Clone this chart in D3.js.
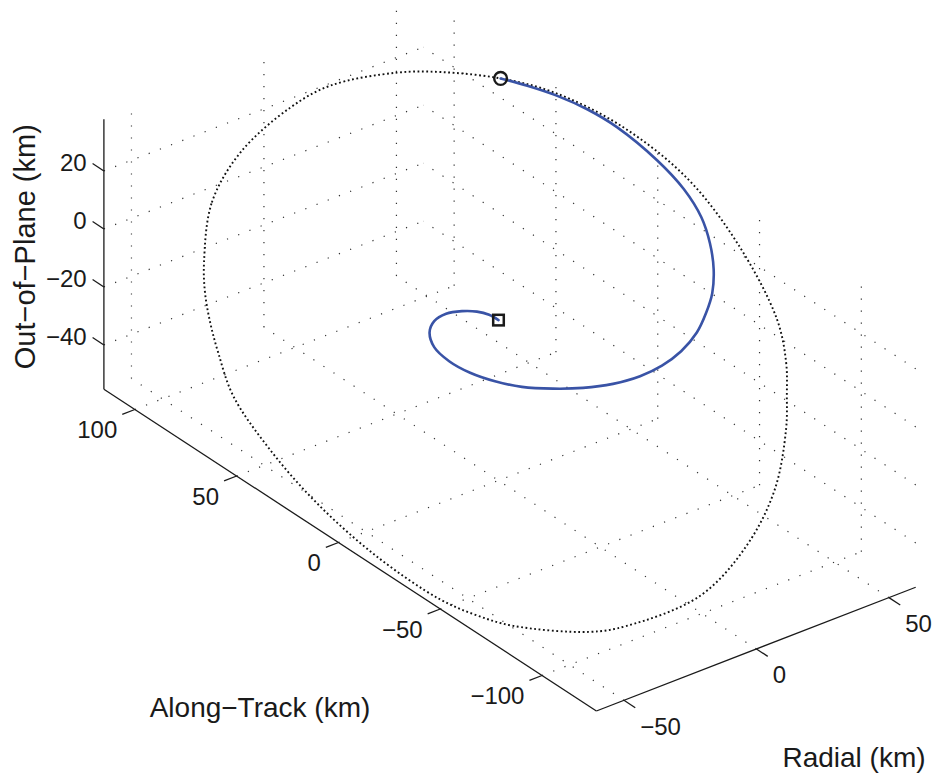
<!DOCTYPE html>
<html>
<head>
<meta charset="utf-8">
<script src="https://cdn.jsdelivr.net/npm/d3@7"></script>
<style>
  body { margin: 0; background: #fff; }
  svg text { font-family: "Liberation Sans", Arial, Helvetica, sans-serif; fill: #1a1a1a; }
</style>
</head>
<body>
<div id="chart"></div>
<script>
// natural motion ellipse (km)
const ellipseRadial = [-32.6, -20.2, -4.3, 12.7, 23.0, 36.3, 43.2, 50.9, 55.8, 59.5, 59.4, 55.0, 44.7, 36.4, 32.6, 28.7,
    17.1, 2.6, -12.9, -30.2, -37.0, -48.2, -52.3, -55.6, -59.3, -59.8, -57.2, -51.4, -46.7, -42.2, -37.0];
const ellipseAlong = [102.2, 114.5, 121.2, 118.8, 112.4, 97.0, 84.7, 65.2, 45.5, 17.5, -15.4, -46.4, -78.6, -93.9, -99.2, -103.9,
    -113.5, -118.4, -115.7, -102.2, -92.9, -69.9, -57.2, -43.5, -17.1, 11.6, 37.9, 63.4, 76.9, 86.7, 96.0];
const ellipseOutOfPlane = [-15.4, -4.8, 3.7, 14.3, 21.2, 28.0, 31.4, 35.4, 37.9, 38.0, 34.9, 27.6, 20.5, 15.6, 7.8, -0.1,
    -12.3, -24.5, -37.5, -47.9, -51.8, -56.3, -57.0, -56.6, -52.5, -47.1, -41.7, -37.0, -29.9, -25.6, -21.4];

// approach trajectory (km), from the circle to the square
const spiralRadial = [50.9, 53.3, 55.7, 57.6, 58.6, 58.3, 56.7, 54.2, 50.6, 45.7, 40.1, 34.8, 28.9, 22.6, 18.2, 13.7,
    8.1, 2.5, -2.5, -7.3, -10.7, -13.4, -14.7, -14.2, -12.1, -9.5, -6.4, -3.7, -1.6, -0.3, 0];
const spiralAlong = [65.2, 55.2, 43.6, 31.4, 18.1, -2.0, -17.2, -29.1, -38.0, -46.2, -52.8, -56.7, -59.8, -60.3, -56.6, -51.7,
    -45.7, -38.3, -30.0, -21.0, -12.2, -3.5, 5.1, 13.1, 18.1, 19.2, 17.4, 13.1, 8.5, 4.2, 0];
const spiralOutOfPlane = [35.4, 36.6, 37.6, 37.9, 37.5, 35.4, 33.0, 29.6, 26.0, 22.6, 19.3, 16.2, 12.9, 8.9, 3.8, -0.5,
    -3.9, -6.7, -9.0, -10.8, -11.7, -11.8, -11.3, -10.3, -8.2, -5.8, -3.5, -1.6, -0.4, 0.0, 0];

const radialTicks = [-50, 0, 50];
const alongTicks = [-100, -50, 0, 50, 100];
const outOfPlaneTicks = [-40, -20, 0, 20];

const radialDomain = [-60.4, 60.1];
const alongDomain = [-126.7, 115.2];
const outOfPlaneDomain = [-55.3, 37.8];

const width = 938, height = 773;

// screen position of the (min,min,min) corner and the three box edges
const corner = [596.4, 711.0];
const edgeRadial = [319.3, -123.75];
const edgeAlong = [-492.5, -321.7];
const edgeUp = [0, -270];
const tickLen = 13.5;

const xs = d3.scaleLinear().domain(radialDomain).range([0, 1]);
const ys = d3.scaleLinear().domain(alongDomain).range([0, 1]);
const zs = d3.scaleLinear().domain(outOfPlaneDomain).range([0, 1]);

function project(r, a, z) {
    let u = xs(r), v = ys(a), w = zs(z);
    return [corner[0] + u * edgeRadial[0] + v * edgeAlong[0] + w * edgeUp[0],
            corner[1] + u * edgeRadial[1] + v * edgeAlong[1] + w * edgeUp[1]];
}
function unit(v) {
    let l = Math.hypot(v[0], v[1]);
    return [v[0] / l, v[1] / l];
}
const uRad = unit(edgeRadial), uAlong = unit(edgeAlong);

const [xmin, xmax] = radialDomain, [ymin, ymax] = alongDomain, [zmin, zmax] = outOfPlaneDomain;
const fmt = d3.format("d");

const svg = d3.select("#chart").append("svg")
    .attr("width", width)
    .attr("height", height);

// grid on the three back planes
let grid = [];
radialTicks.forEach(r => {
    grid.push([[r, ymin, zmin], [r, ymax, zmin]]);
    grid.push([[r, ymax, zmin], [r, ymax, zmax]]);
});
alongTicks.forEach(a => {
    grid.push([[xmin, a, zmin], [xmax, a, zmin]]);
    grid.push([[xmax, a, zmin], [xmax, a, zmax]]);
});
outOfPlaneTicks.forEach(z => {
    grid.push([[xmin, ymax, z], [xmax, ymax, z]]);
    grid.push([[xmax, ymin, z], [xmax, ymax, z]]);
});

svg.append("g").attr("class", "grid")
    .selectAll("line")
    .data(grid)
    .enter().append("line")
    .attr("x1", d => project(...d[0])[0])
    .attr("y1", d => project(...d[0])[1])
    .attr("x2", d => project(...d[1])[0])
    .attr("y2", d => project(...d[1])[1])
    .attr("stroke", "#333")
    .attr("stroke-width", 1.2)
    .attr("stroke-dasharray", "1.2,10.8");

// axis lines
let axisLines = [
    [[xmin, ymax, zmin], [xmin, ymax, zmax]],
    [[xmin, ymin, zmin], [xmin, ymax, zmin]],
    [[xmin, ymin, zmin], [xmax, ymin, zmin]]
];
svg.append("g").attr("class", "axes")
    .selectAll("line")
    .data(axisLines)
    .enter().append("line")
    .attr("x1", d => project(...d[0])[0])
    .attr("y1", d => project(...d[0])[1])
    .attr("x2", d => project(...d[1])[0])
    .attr("y2", d => project(...d[1])[1])
    .attr("stroke", "#1a1a1a")
    .attr("stroke-width", 1.3);

// ticks and tick labels
let ticks = [];
outOfPlaneTicks.forEach(z => {
    let p = project(xmin, ymax, z);
    let q = [p[0] + tickLen * uAlong[0], p[1] + tickLen * uAlong[1]];
    ticks.push({ p, q, label: fmt(z), x: q[0] - 6, y: q[1] + 7, anchor: "end" });
});
alongTicks.forEach(a => {
    let p = project(xmin, a, zmin);
    let q = [p[0] - tickLen * uRad[0], p[1] - tickLen * uRad[1]];
    ticks.push({ p, q, label: fmt(a), x: q[0] - 5, y: q[1] + 24, anchor: "end" });
});
radialTicks.forEach(r => {
    let p = project(r, ymin, zmin);
    let q = [p[0] - tickLen * uAlong[0], p[1] - tickLen * uAlong[1]];
    ticks.push({ p, q, label: fmt(r), x: q[0] + 5, y: q[1] + 27, anchor: "start" });
});

let tg = svg.append("g").attr("class", "ticks");
tg.selectAll("line")
    .data(ticks)
    .enter().append("line")
    .attr("x1", d => d.p[0]).attr("y1", d => d.p[1])
    .attr("x2", d => d.q[0]).attr("y2", d => d.q[1])
    .attr("stroke", "#1a1a1a")
    .attr("stroke-width", 1.3);
tg.selectAll("text")
    .data(ticks)
    .enter().append("text")
    .attr("x", d => d.x)
    .attr("y", d => d.y)
    .attr("text-anchor", d => d.anchor)
    .style("font-size", "24px")
    .text(d => d.label);

// axis titles
svg.append("text")
    .attr("x", 260).attr("y", 717)
    .attr("text-anchor", "middle")
    .style("font-size", "28px")
    .text("Along\u2212Track (km)");
svg.append("text")
    .attr("x", 854).attr("y", 767)
    .attr("text-anchor", "middle")
    .style("font-size", "28px")
    .text("Radial (km)");
svg.append("text")
    .attr("transform", "translate(35,246.7) rotate(-90)")
    .attr("text-anchor", "middle")
    .style("font-size", "29px")
    .text("Out\u2212of\u2212Plane (km)");

// trajectories
let ellipsePts = ellipseRadial.map((r, i) => project(r, ellipseAlong[i], ellipseOutOfPlane[i]));
let spiralPts = spiralRadial.map((r, i) => project(r, spiralAlong[i], spiralOutOfPlane[i]));

svg.append("path")
    .attr("d", d3.line().curve(d3.curveCatmullRomClosed.alpha(0.5))(ellipsePts))
    .attr("fill", "none")
    .attr("stroke", "#111")
    .attr("stroke-width", 1.9)
    .attr("stroke-dasharray", "1.8,2.6");

svg.append("path")
    .attr("d", d3.line().curve(d3.curveCatmullRom.alpha(0.5))(spiralPts))
    .attr("fill", "none")
    .attr("stroke", "#3953a6")
    .attr("stroke-width", 2.6)
    .attr("stroke-linecap", "round");

// start / end markers
let start = spiralPts[0], end = spiralPts[spiralPts.length - 1];
svg.append("circle")
    .attr("cx", start[0]).attr("cy", start[1])
    .attr("r", 6.4)
    .attr("fill", "none")
    .attr("stroke", "#1a1a1a")
    .attr("stroke-width", 2.4);
svg.append("rect")
    .attr("x", end[0] - 5.3).attr("y", end[1] - 5.3)
    .attr("width", 10.6).attr("height", 10.6)
    .attr("fill", "none")
    .attr("stroke", "#1a1a1a")
    .attr("stroke-width", 2.5);
</script>
</body>
</html>
